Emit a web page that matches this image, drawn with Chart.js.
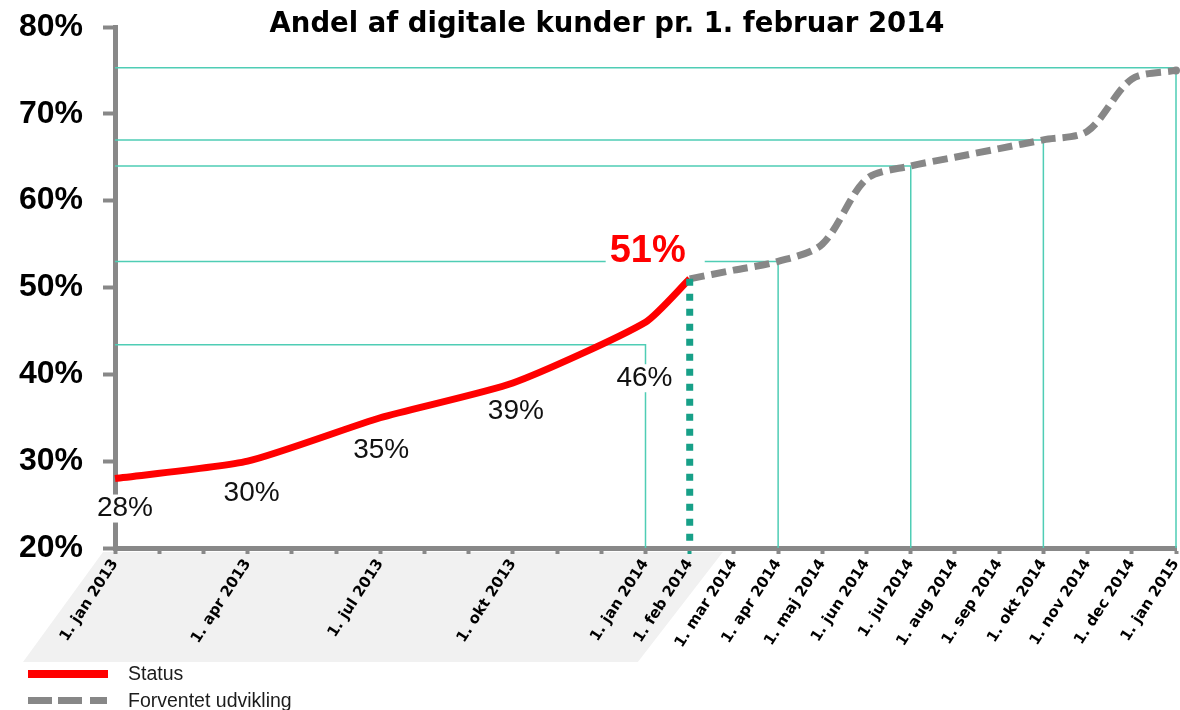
<!DOCTYPE html>
<html lang="da">
<head>
<meta charset="utf-8">
<title>Andel af digitale kunder</title>
<script src="https://cdn.jsdelivr.net/npm/chart.js@4.4.1/dist/chart.umd.min.js"></script>
<style>
  body { margin: 0; background: #fff; overflow: hidden; }
  #wrap { position: relative; width: 1180px; height: 710px; }
  #chart { position: absolute; left: 0; top: 0; }
  #title {
    position: absolute; left: 107px; top: 7px; width: 1000px;
    text-align: center; font: bold 27.5px "DejaVu Sans", Verdana, sans-serif;
    line-height: 30px; color: #000;
  }
  .legend-row {
    position: absolute; left: 28px; display: flex; align-items: center;
    font: 19.5px "Liberation Sans", Arial, sans-serif; color: #1c1c1c;
  }
  .legend-row .key { display: flex; width: 80px; margin-right: 20px; }
  .red-bar { width: 80px; height: 8px; background: #ff0000; }
  .dash { height: 7px; background: #878787; }
</style>
</head>
<body>
<div id="wrap">
  <canvas id="chart" width="1180" height="710"></canvas>
  <div id="title">Andel af digitale kunder pr. 1. februar 2014</div>
  <div class="legend-row" style="top:662px">
    <div class="key"><div class="red-bar"></div></div>Status
  </div>
  <div class="legend-row" style="top:689px">
    <div class="key">
      <div class="dash" style="width:24px;margin-right:6px"></div>
      <div class="dash" style="width:24px;margin-right:8px"></div>
      <div class="dash" style="width:17px"></div>
    </div>Forventet udvikling
  </div>
</div>
<script>
// month index 0 = 1. jan 2013, 24 = 1. jan 2015
const monthLabels = [
  "1. jan 2013", "", "", "1. apr 2013", "", "", "1. jul 2013", "", "",
  "1. okt 2013", "", "", "1. jan 2014", "1. feb 2014", "1. mar 2014",
  "1. apr 2014", "1. maj 2014", "1. jun 2014", "1. jul 2014", "1. aug 2014",
  "1. sep 2014", "1. okt 2014", "1. nov 2014", "1. dec 2014", "1. jan 2015",
];
const yTicks = [20, 30, 40, 50, 60, 70, 80];

const statusMonths = [0, 3, 6, 9, 12, 13];
const statusValues = [28, 30, 35, 39, 46, 51];

const forecastMonths = [13, 14, 15, 16, 17, 18, 19, 20, 21, 22, 23, 24];
const forecastValues = [51, 52, 53, 55, 62.5, 64, 65, 66, 67, 68, 74, 75];

// thin teal drop lines
const guideMonths = [12, 15, 18, 21, 24];
const guideValues = [43.4, 53, 64, 67, 75.3];

const todayMonth = 13;

// label placement, pixel offsets from each status point
const labelOffsets = [[10, 30], [4, 32], [1, 33], [3, 28], [-1, 56], [-42, -27]];

const toPoints = (xs, ys) => xs.map((x, i) => ({ x: x, y: ys[i] }));
const yMin = yTicks[0];

const guideSets = guideMonths.map((m, i) => ({
  data: [
    { x: 0, y: guideValues[i] },
    { x: m, y: guideValues[i] },
    { x: m, y: yMin },
  ],
  borderColor: "#4fcdb5",
  borderWidth: 1.5,
  pointRadius: 0,
  tension: 0,
  clip: false,
  order: 10,
}));

const datasets = [
  {
    label: "Status",
    data: toPoints(statusMonths, statusValues),
    borderColor: "#ff0000",
    borderWidth: 7,
    pointRadius: 0,
    tension: 0.2,
    clip: false,
    order: 1,
  },
  {
    label: "Forventet udvikling",
    data: toPoints(forecastMonths, forecastValues),
    borderColor: "#878787",
    borderWidth: 7,
    borderDash: [15, 7],
    // only the end point gets a dot
    pointRadius: (ctx) => (ctx.dataIndex === forecastValues.length - 1 ? 4 : 0),
    pointBackgroundColor: "#878787",
    pointBorderWidth: 0,
    tension: 0.3,
    clip: false,
    order: 2,
  },
  {
    data: [
      { x: todayMonth, y: statusValues[statusValues.length - 1] },
      { x: todayMonth, y: yMin },
    ],
    borderColor: "#17a088",
    borderWidth: 7,
    borderDash: [7, 8],
    pointRadius: 0,
    clip: false,
    order: 0,
  },
  ...guideSets,
];

// light grey band behind the 2013 labels
const shadeBand = {
  id: "shadeBand",
  beforeDraw(chart) {
    const { ctx, chartArea, scales } = chart;
    const x0 = scales.x.getPixelForValue(0) - 12;
    const x1 = scales.x.getPixelForValue(13.75);
    const top = chartArea.bottom + 4;
    const bottom = chartArea.bottom + 114;
    ctx.save();
    ctx.fillStyle = "#f1f1f1";
    ctx.beginPath();
    ctx.moveTo(x0, top);
    ctx.lineTo(x1, top);
    ctx.lineTo(x1 - 85, bottom);
    ctx.lineTo(x0 - 80, bottom);
    ctx.closePath();
    ctx.fill();
    ctx.restore();
  },
};

const valueLabels = {
  id: "valueLabels",
  afterDraw(chart) {
    const { ctx, scales } = chart;
    ctx.save();
    ctx.textAlign = "center";
    ctx.textBaseline = "middle";
    statusValues.forEach((v, i) => {
      const big = i === statusValues.length - 1;
      const cx = scales.x.getPixelForValue(statusMonths[i]) + labelOffsets[i][0];
      const cy = scales.y.getPixelForValue(v) + labelOffsets[i][1];
      const text = v + "%";
      ctx.font = big
        ? "bold 38px 'Liberation Sans', Arial, sans-serif"
        : "28px 'Liberation Sans', Arial, sans-serif";
      const w = ctx.measureText(text).width;
      const h = big ? 30 : 24;
      const padRight = big ? 19 : 4;
      ctx.fillStyle = "#fff";
      ctx.fillRect(cx - w / 2 - 4, cy - h / 2 - 2, w + 4 + padRight, h + 4);
      ctx.fillStyle = big ? "#ff0000" : "#111";
      ctx.fillText(text, cx, cy);
    });
    ctx.restore();
  },
};

new Chart(document.getElementById("chart"), {
  type: "line",
  data: { datasets: datasets },
  plugins: [shadeBand, valueLabels],
  options: {
    responsive: false,
    animation: false,
    events: [],
    layout: { padding: { top: 27, right: 4, bottom: 52, left: 0 } },
    plugins: {
      legend: { display: false },
      tooltip: { enabled: false },
      title: { display: false },
    },
    scales: {
      x: {
        type: "linear",
        min: 0,
        max: monthLabels.length - 1,
        afterBuildTicks: (axis) => {
          axis.ticks = monthLabels.map((_, i) => ({ value: i }));
        },
        afterFit: (axis) => {
          axis.height = 110;
          axis.paddingLeft = 0;
          axis.paddingRight = 0;
        },
        border: { color: "#888", width: 5 },
        grid: {
          drawOnChartArea: false,
          drawTicks: true,
          tickLength: 6,
          tickWidth: 4,
          tickColor: (ctx) => (ctx.tick && ctx.tick.value === todayMonth ? "#17a088" : "#888"),
        },
        ticks: {
          autoSkip: false,
          minRotation: 57,
          maxRotation: 57,
          padding: 2,
          color: "#000",
          font: { family: "'DejaVu Sans', Verdana, sans-serif", size: 15, weight: "bold" },
          callback: (value) => monthLabels[value] || "",
        },
      },
      y: {
        min: yTicks[0],
        max: yTicks[yTicks.length - 1],
        afterBuildTicks: (axis) => {
          axis.ticks = yTicks.map((v) => ({ value: v }));
        },
        afterFit: (axis) => {
          axis.width = 115;
          axis.paddingTop = 0;
          axis.paddingBottom = 0;
        },
        border: { color: "#888", width: 5 },
        grid: {
          drawOnChartArea: false,
          drawTicks: true,
          tickLength: 12,
          tickWidth: 4,
          tickColor: "#888",
        },
        ticks: {
          padding: 20,
          color: "#000",
          font: { family: "'Liberation Sans', Arial, sans-serif", size: 32, weight: "bold" },
          callback: (value) => value + "%",
        },
      },
    },
  },
});
</script>
</body>
</html>
